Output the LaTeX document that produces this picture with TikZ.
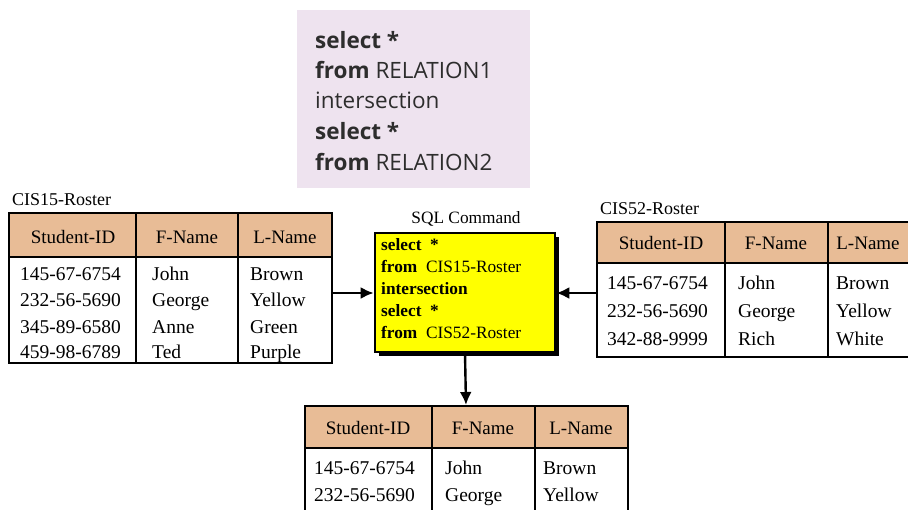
\documentclass[tikz,border=0pt]{standalone}
\usepackage{fontspec}
\setmainfont{Liberation Serif}
\newfontfamily\querysans{Open Sans}
\usetikzlibrary{arrows.meta,shadows}
\definecolor{headtan}{RGB}{232,188,150}
\definecolor{querybg}{RGB}{238,227,239}
\definecolor{querytext}{RGB}{45,45,45}
\definecolor{cmdyellow}{RGB}{255,255,0}
\tikzset{
  grid/.style={line width=2.6pt, draw=black},
  cell/.style={anchor=base west, inner sep=0pt, font=\fontsize{19.5}{22}\selectfont},
  headcell/.style={anchor=base, inner sep=0pt, font=\fontsize{19}{22}\selectfont},
  tabname/.style={anchor=base west, inner sep=0pt, font=\fontsize{18}{20}\selectfont},
  sqlline/.style={anchor=base west, inner sep=0pt, font=\fontsize{17.3}{20}\selectfont},
  qline/.style={anchor=base west, inner sep=0pt, text=querytext, font=\querysans\fontsize{22.5}{26}\selectfont},
  flow/.style={line width=2.4pt, -{Latex[length=13pt,width=12pt]}},
}
\begin{document}
\begin{tikzpicture}[x=1pt,y=-1pt]
\useasboundingbox (0,0) rectangle (908,509);

% generic SQL query panel
\fill[querybg] (297,10) rectangle (530,188);
\node[qline] (q1) at (315,48) {\textbf{select *}};
\node[qline] (q2) at (315,78) {\textbf{from} RELATION1};
\node[qline] (q3) at (315,108) {intersection};
\node[qline] (q4) at (315,139) {\textbf{select *}};
\node[qline] (q5) at (315,170) {\textbf{from} RELATION2};

% CIS15-Roster table
\node[tabname] (n1) at (12,205) {CIS15-Roster};
\fill[headtan] (9,213) rectangle (332,257);
\draw[grid] (9,213) rectangle (332,363);
\draw[grid] (9,257) -- (332,257);
\draw[grid] (136,213) -- (136,363);
\draw[grid] (238,213) -- (238,363);
\coordinate (t1) at (332,293);
\node[headcell] at (73,243) {Student-ID};
\node[headcell] at (187,243) {F-Name};
\node[headcell] at (285,243) {L-Name};
\node[cell] at (20,280) {145-67-6754};
\node[cell] at (20,306) {232-56-5690};
\node[cell] at (20,333) {345-89-6580};
\node[cell] at (20,358) {459-98-6789};
\node[cell] at (152,280) {John};
\node[cell] at (152,306) {George};
\node[cell] at (152,333) {Anne};
\node[cell] at (152,358) {Ted};
\node[cell] at (250,280) {Brown};
\node[cell] at (250,306) {Yellow};
\node[cell] at (250,333) {Green};
\node[cell] at (250,358) {Purple};

% CIS52-Roster table (runs past the right edge)
\node[tabname] (n2) at (600,214) {CIS52-Roster};
\fill[headtan] (597,222) rectangle (920,263);
\draw[grid] (920,222) -- (597,222) -- (597,357) -- (920,357);
\draw[grid] (597,263) -- (920,263);
\draw[grid] (725,222) -- (725,357);
\draw[grid] (828,222) -- (828,357);
\coordinate (t2) at (597,293);
\node[headcell] at (661,249) {Student-ID};
\node[headcell] at (776,249) {F-Name};
\node[headcell] at (868,249) {L-Name};
\node[cell] at (607,289) {145-67-6754};
\node[cell] at (607,317) {232-56-5690};
\node[cell] at (607,345) {342-88-9999};
\node[cell] at (738,289) {John};
\node[cell] at (738,317) {George};
\node[cell] at (738,345) {Rich};
\node[cell] at (836,289) {Brown};
\node[cell] at (836,317) {Yellow};
\node[cell] at (836,345) {White};

% SQL command box
\node[anchor=base, inner sep=0pt, font=\fontsize{17.3}{20}\selectfont] (title) at (466,223) {SQL Command};
\node[draw=black, line width=2.6pt, fill=cmdyellow, minimum width=180pt, minimum height=119pt,
      drop shadow={shadow xshift=4pt, shadow yshift=-4pt, fill=black, opacity=1}]
      (sql) at (465,292.5) {};
\node[sqlline] at (381,250) {\textbf{select \ *}};
\node[sqlline] at (381,272) {\textbf{from} \ CIS15-Roster};
\node[sqlline] at (381,294) {\textbf{intersection}};
\node[sqlline] at (381,316) {\textbf{select \ *}};
\node[sqlline] at (381,338) {\textbf{from} \ CIS52-Roster};

% result table (cut off at the bottom edge)
\fill[headtan] (305,406) rectangle (628,448);
\draw[grid] (305,520) -- (305,406) -- (628,406) -- (628,520);
\draw[grid] (305,448) -- (628,448);
\draw[grid] (432,406) -- (432,520);
\draw[grid] (535,406) -- (535,520);
\coordinate (t3) at (466,405);
\node[headcell] at (368,434) {Student-ID};
\node[headcell] at (483,434) {F-Name};
\node[headcell] at (581,434) {L-Name};
\node[cell] at (314,474) {145-67-6754};
\node[cell] at (314,501) {232-56-5690};
\node[cell] at (445,474) {John};
\node[cell] at (445,501) {George};
\node[cell] at (543,474) {Brown};
\node[cell] at (543,501) {Yellow};

% connectors
\draw[flow] (t1) -- (t1 -| sql.west);
\draw[flow] (t2) -- (t2 -| sql.east);
\draw[flow] (sql.south) -- (t3);
\end{tikzpicture}
\end{document}
